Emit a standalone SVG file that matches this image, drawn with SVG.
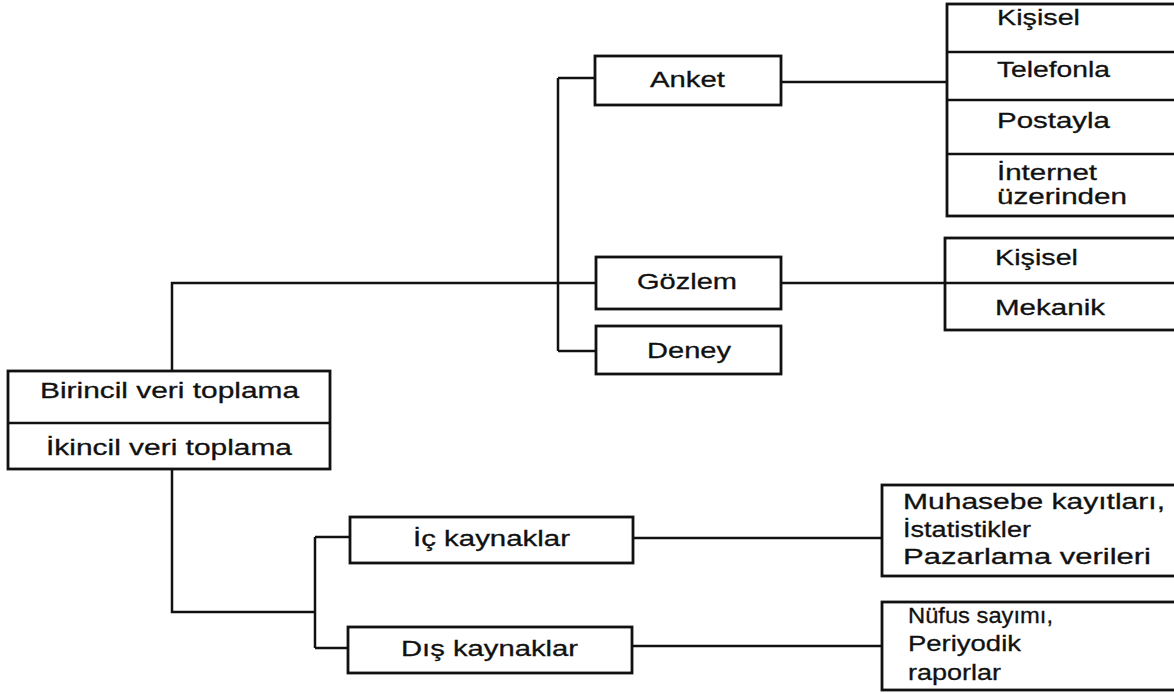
<svg xmlns="http://www.w3.org/2000/svg" width="1174" height="694" viewBox="0 0 1174 694">
<style>
.bx{fill:#fff;stroke:#111;stroke-width:2.8}
.ln{fill:none;stroke:#111;stroke-width:2.5}
.t{font-family:"Liberation Sans",Arial,sans-serif;font-size:22.5px;fill:#111;stroke:#111;stroke-width:0.3}
</style>
<rect width="1174" height="694" fill="#fff"/>
<g id="connectors">
<path class="ln" d="M172 370 V283 H596"/>
<path class="ln" d="M558 78 V351 M558 78 H595 M558 351 H596"/>
<path class="ln" d="M781 82 H947"/>
<path class="ln" d="M781 283 H945"/>
<path class="ln" d="M172 469 V612 H315"/>
<path class="ln" d="M315 537 V648 M315 537 H349 M315 648 H348"/>
<path class="ln" d="M633 538 H882"/>
<path class="ln" d="M632 646 H882"/>
</g>
<g id="root">
<rect class="bx" x="8" y="371" width="322" height="98"/>
<line class="ln" x1="8" y1="423" x2="330" y2="423"/>
<text class="t" x="40" y="398" textLength="259" lengthAdjust="spacingAndGlyphs">Birincil veri toplama</text>
<text class="t" x="46" y="455" textLength="246" lengthAdjust="spacingAndGlyphs">İkincil veri toplama</text>
</g>
<g id="anket">
<rect class="bx" x="595" y="56" width="186" height="49"/>
<text class="t" x="650" y="87" textLength="75" lengthAdjust="spacingAndGlyphs">Anket</text>
</g>
<g id="gozlem">
<rect class="bx" x="596" y="257" width="185" height="52"/>
<text class="t" x="637" y="289" textLength="100" lengthAdjust="spacingAndGlyphs">Gözlem</text>
</g>
<g id="deney">
<rect class="bx" x="596" y="326" width="185" height="48"/>
<text class="t" x="647" y="358" textLength="84" lengthAdjust="spacingAndGlyphs">Deney</text>
</g>
<g id="anket-list">
<rect class="bx" x="947" y="4" width="232" height="212"/>
<line class="ln" x1="947" y1="52" x2="1176" y2="52"/>
<line class="ln" x1="947" y1="100" x2="1176" y2="100"/>
<line class="ln" x1="947" y1="154" x2="1176" y2="154"/>
<text class="t" x="997" y="25" textLength="83" lengthAdjust="spacingAndGlyphs">Kişisel</text>
<text class="t" x="997" y="77" textLength="113" lengthAdjust="spacingAndGlyphs">Telefonla</text>
<text class="t" x="997" y="128" textLength="113" lengthAdjust="spacingAndGlyphs">Postayla</text>
<text class="t" x="997" y="180" textLength="100" lengthAdjust="spacingAndGlyphs">İnternet</text>
<text class="t" x="997" y="204" textLength="130" lengthAdjust="spacingAndGlyphs">üzerinden</text>
</g>
<g id="gozlem-list">
<rect class="bx" x="945" y="238" width="234" height="92"/>
<line class="ln" x1="945" y1="283" x2="1176" y2="283"/>
<text class="t" x="995" y="265" textLength="83" lengthAdjust="spacingAndGlyphs">Kişisel</text>
<text class="t" x="995" y="315" textLength="110" lengthAdjust="spacingAndGlyphs">Mekanik</text>
</g>
<g id="ic">
<rect class="bx" x="350" y="517" width="283" height="46"/>
<text class="t" x="413" y="546" textLength="157" lengthAdjust="spacingAndGlyphs">İç kaynaklar</text>
</g>
<g id="dis">
<rect class="bx" x="348" y="627" width="284" height="46"/>
<text class="t" x="401" y="656" textLength="177" lengthAdjust="spacingAndGlyphs">Dış kaynaklar</text>
</g>
<g id="ic-list">
<rect class="bx" x="882" y="485" width="297" height="91"/>
<text class="t" x="903" y="509" textLength="262" lengthAdjust="spacingAndGlyphs">Muhasebe kayıtları,</text>
<text class="t" x="903" y="537" textLength="128" lengthAdjust="spacingAndGlyphs">İstatistikler</text>
<text class="t" x="903" y="564" textLength="248" lengthAdjust="spacingAndGlyphs">Pazarlama verileri</text>
</g>
<g id="dis-list">
<rect class="bx" x="882" y="602" width="297" height="88"/>
<text class="t" x="908" y="623" textLength="145" lengthAdjust="spacingAndGlyphs">Nüfus sayımı,</text>
<text class="t" x="908" y="651" textLength="113" lengthAdjust="spacingAndGlyphs">Periyodik</text>
<text class="t" x="908" y="680" textLength="93" lengthAdjust="spacingAndGlyphs">raporlar</text>
</g>
</svg>
